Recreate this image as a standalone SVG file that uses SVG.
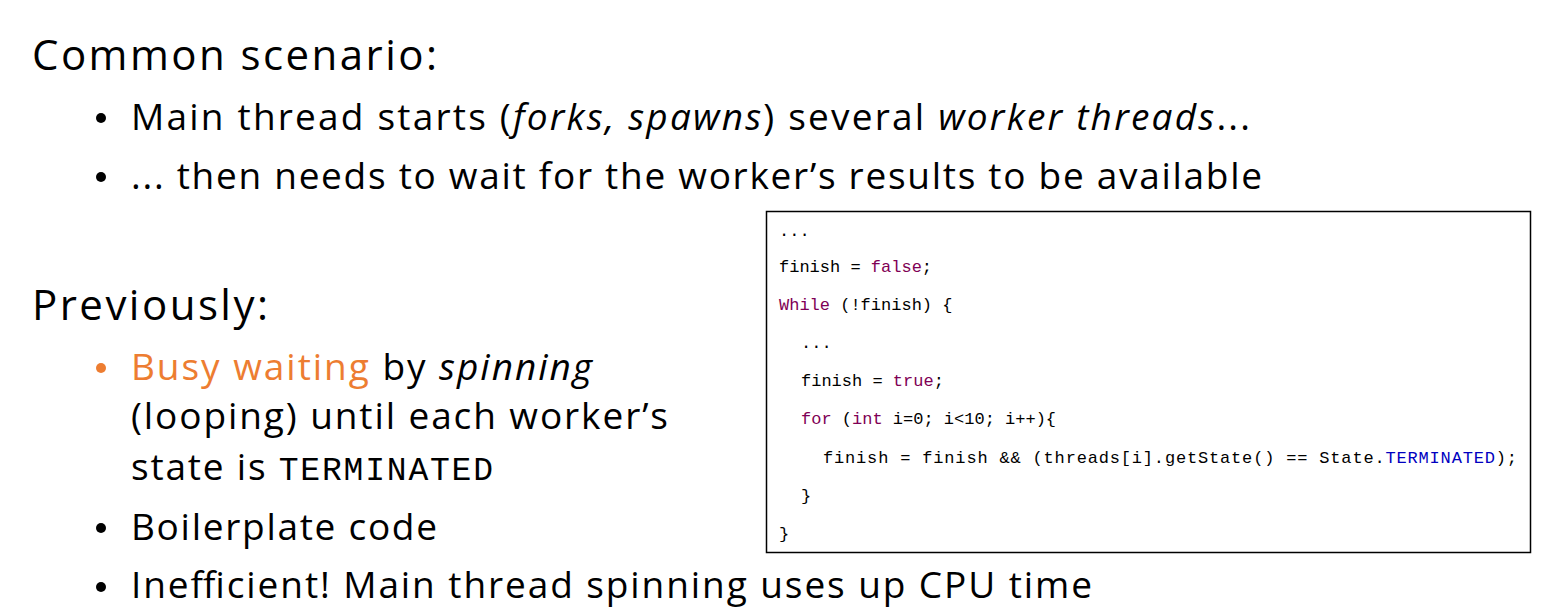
<svg xmlns="http://www.w3.org/2000/svg" width="1557" height="613" viewBox="0 0 1557 613">
<style>
.t{font-family:"Open Sans","Liberation Sans",sans-serif;fill:#000}
.h{font-size:42px}
.b{font-size:37px}
.c{font-family:"Liberation Mono","DejaVu Sans Mono",monospace;font-size:17px;fill:#000}
.k{fill:#7f0055}
.e{fill:#0000c0}
.o{fill:#ed7d31}
</style>
<rect width="1557" height="613" fill="#fff"/>
<g id="text">
<text class="t h" x="32" y="70" textLength="405">Common scenario:</text>
<circle cx="101" cy="118" r="5"/>
<text class="t b" x="131" y="130" textLength="1119">Main thread starts (<tspan font-style="italic">forks, spawns</tspan>) several <tspan font-style="italic">worker threads</tspan>...</text>
<circle cx="101" cy="177" r="5"/>
<text class="t b" x="131" y="189" textLength="1131">... then needs to wait for the worker’s results to be available</text>
<text class="t h" x="32" y="320" textLength="236">Previously:</text>
<circle cx="101" cy="368" r="5" fill="#ed7d31"/>
<text class="t b" x="131" y="380" textLength="461"><tspan class="o">Busy waiting</tspan> by <tspan font-style="italic">spinning</tspan></text>
<text class="t b" x="131" y="429" textLength="537">(looping) until each worker’s</text>
<text class="t b" x="131" y="480" textLength="362">state is <tspan font-family="Liberation Mono,monospace" font-size="33">TERMINATED</tspan></text>
<circle cx="101" cy="528" r="5"/>
<text class="t b" x="131" y="540" textLength="306">Boilerplate code</text>
<circle cx="101" cy="587" r="5"/>
<text class="t b" x="131" y="598" textLength="961">Inefficient! Main thread spinning uses up CPU time</text>
</g>
<g id="code">
<rect x="766.5" y="211.5" width="764" height="341" fill="#fff" stroke="#000" stroke-width="1.5"/>
<text class="c" x="779" y="236">...</text>
<text class="c" x="779" y="272">finish = <tspan class="k">false</tspan>;</text>
<text class="c" x="779" y="310"><tspan class="k">While</tspan> (!finish) {</text>
<text class="c" x="801" y="348">...</text>
<text class="c" x="801" y="386">finish = <tspan class="k">true</tspan>;</text>
<text class="c" x="801" y="424"><tspan class="k">for</tspan> (<tspan class="k">int</tspan> i=0; i&lt;10; i++){</text>
<text class="c" x="823" y="463" textLength="694">finish = finish &amp;&amp; (threads[i].getState() == State.<tspan class="e">TERMINATED</tspan>);</text>
<text class="c" x="801" y="501">}</text>
<text class="c" x="779" y="539">}</text>
</g>
</svg>
